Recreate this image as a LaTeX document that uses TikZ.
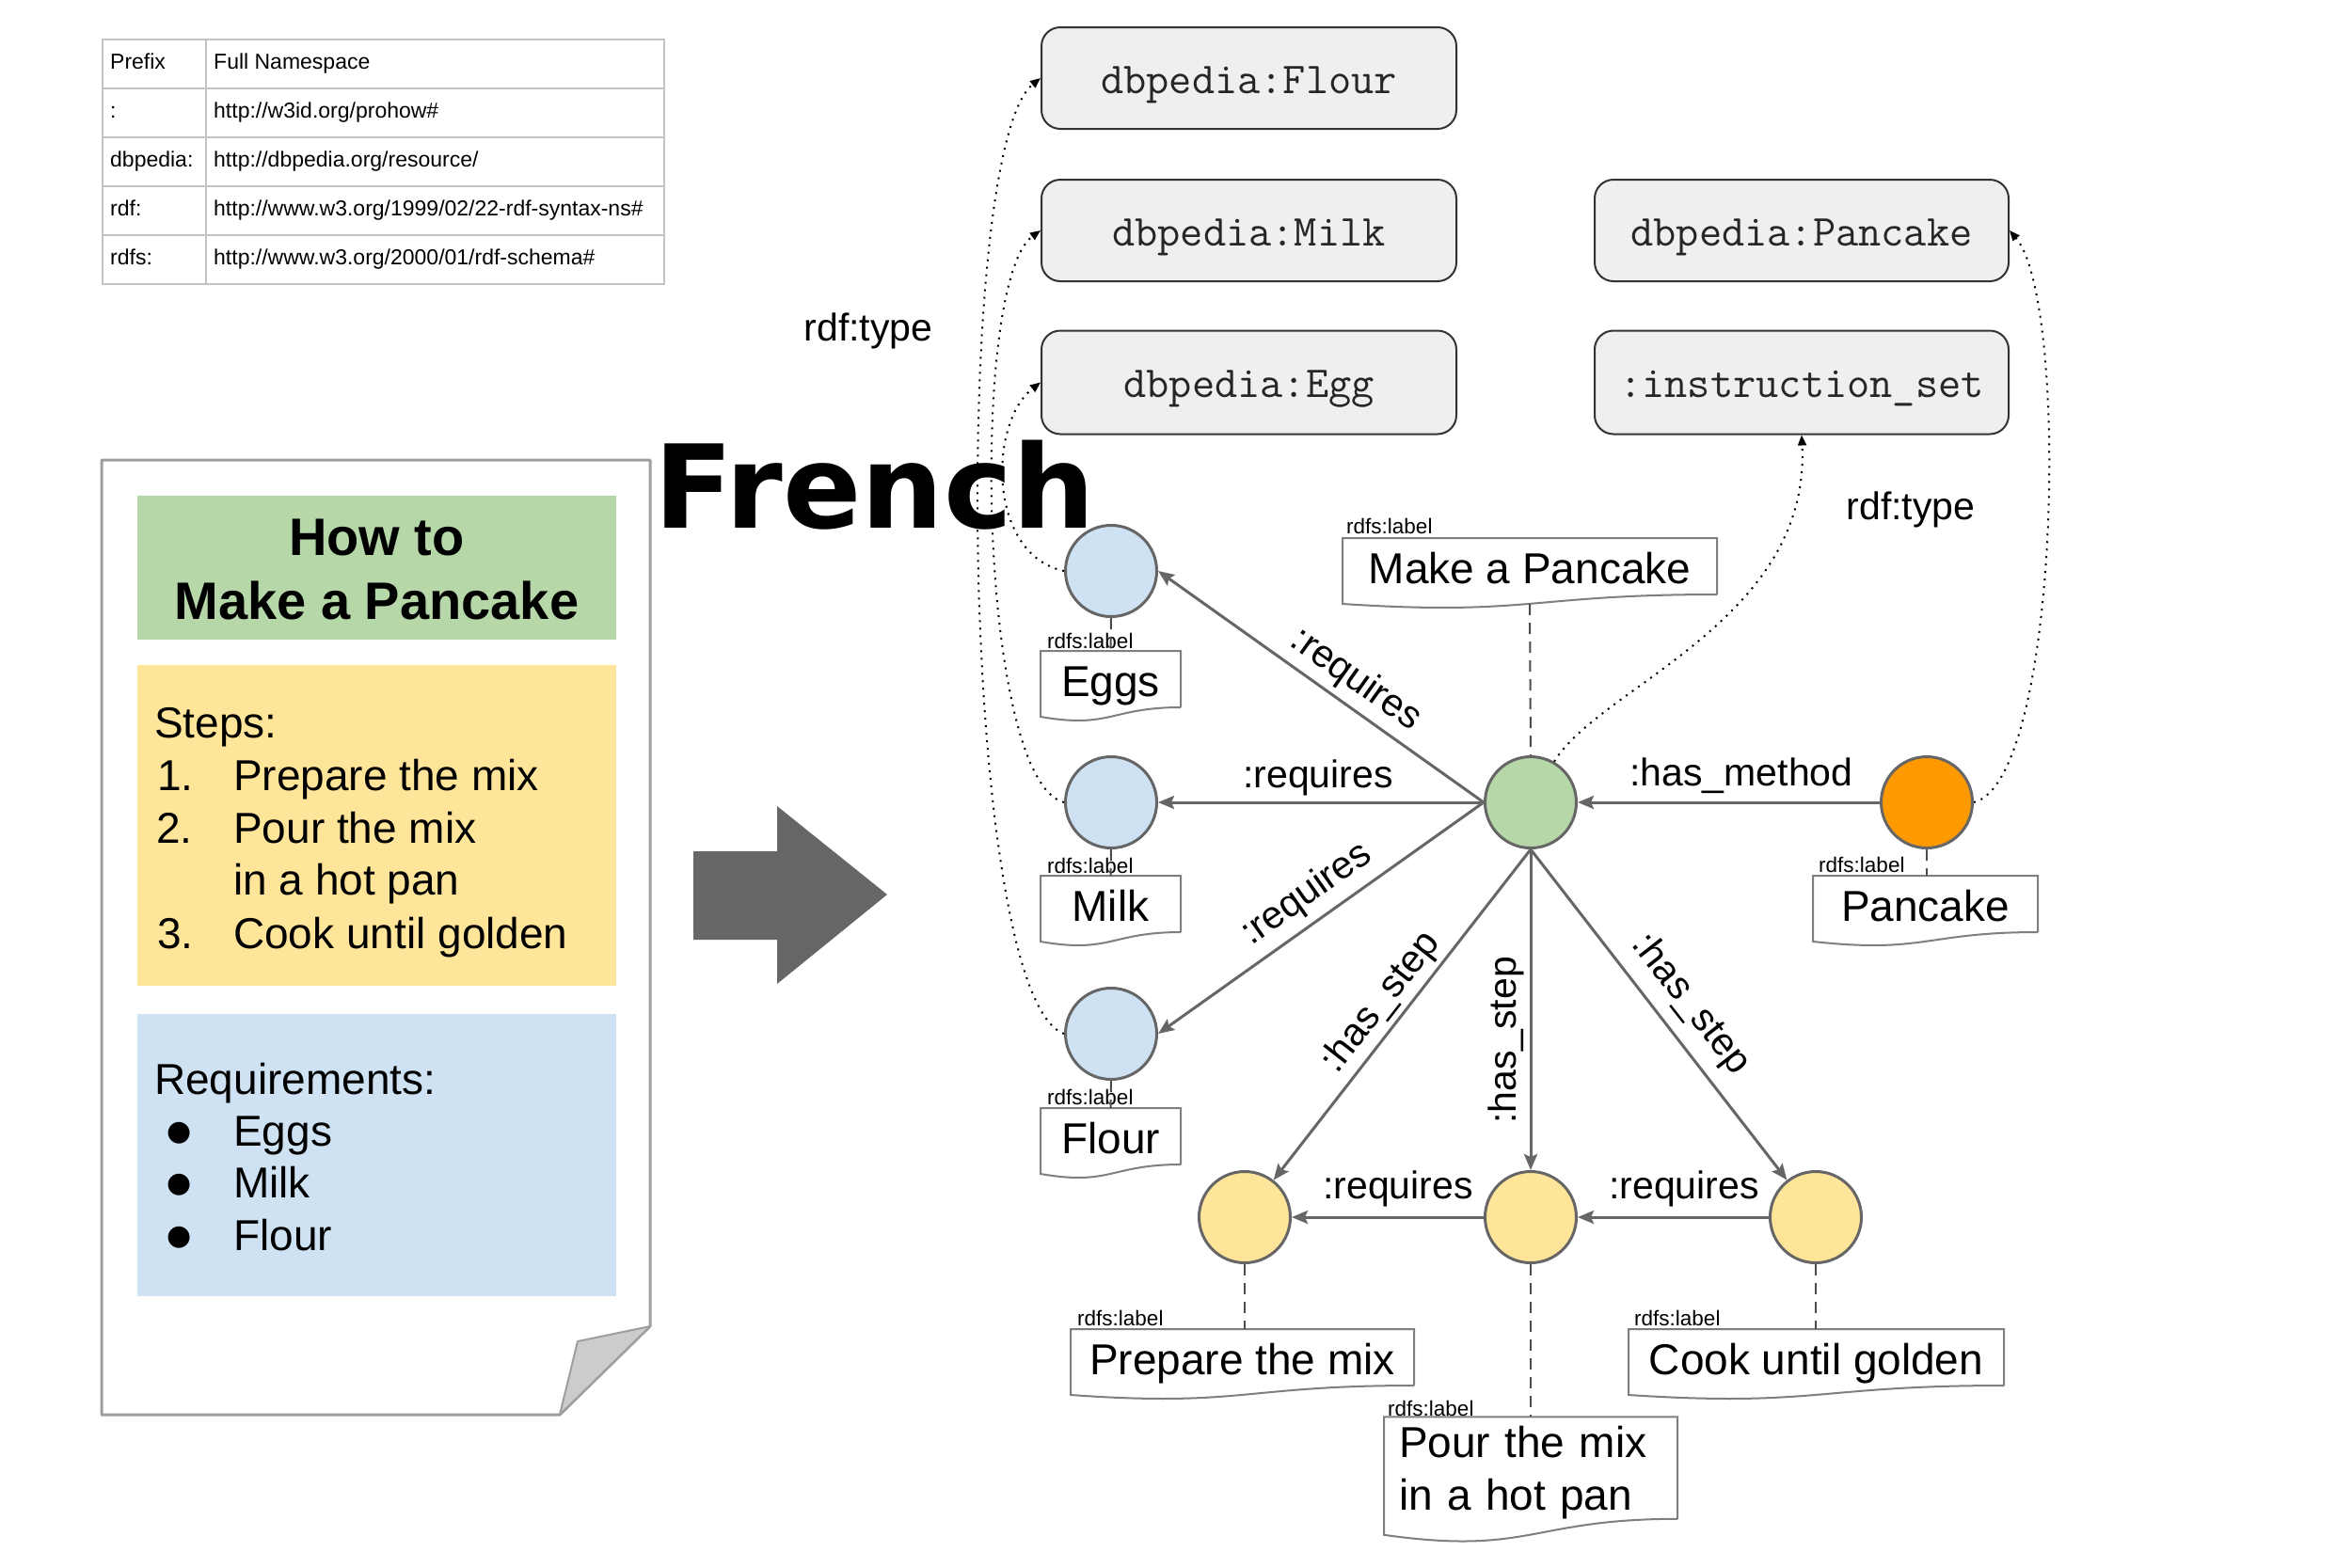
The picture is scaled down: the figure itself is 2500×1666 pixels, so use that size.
\documentclass[tikz,border=0pt]{standalone}
\usepackage{fontspec}
\setmainfont{Liberation Sans}
\newfontfamily\djv{DejaVu Sans}
\usetikzlibrary{arrows.meta,calc}
\definecolor{edgegray}{HTML}{666666}
\definecolor{boxfill}{HTML}{EFEFEF}
\definecolor{boxline}{HTML}{333333}
\definecolor{cblue}{HTML}{CFE2F3}
\definecolor{cgreen}{HTML}{B6D7A8}
\definecolor{corange}{HTML}{FF9900}
\definecolor{cyellow}{HTML}{FFE599}
\definecolor{tabline}{HTML}{C4C4C4}
\definecolor{pageline}{HTML}{9E9E9E}
\definecolor{foldfill}{HTML}{CCCCCC}
\definecolor{docline}{HTML}{7F7F7F}
\definecolor{arrowfill}{HTML}{666666}
\newcommand{\fsz}[2]{\fontsize{#1}{#2}\selectfont}
\newcommand{\wave}[3]{%
  \draw[docedge] (#1.south east) -- (#1.north east) -- (#1.north west) --
    ($(#1.south west)+(0,#3)$) .. controls ($(#1.south)+(0,#2)$) and (#1.south) .. (#1.south east);}
\tikzset{
  res/.style={circle, draw=edgegray, line width=3pt, minimum size=97pt, inner sep=0pt},
  tbox/.style={rectangle, rounded corners=20pt, fill=boxfill, draw=boxline, line width=2pt,
    minimum width=441pt, minimum height=108pt, font=\ttfamily\fsz{47}{56}, text=black!85,
    text height=42pt, text depth=10pt},
  lboxbase/.style={rectangle, minimum height=60pt, inner sep=0pt, outer sep=0pt, font=\fsz{46}{56}},
  lbox/.style={lboxbase, text height=46pt, text depth=10pt},
  docedge/.style={draw=docline, line width=2pt},
  small/.style={font=\fsz{22.5}{27}, inner sep=0pt, anchor=base west},
  elabel/.style={font=\fsz{41}{49}, inner sep=0pt},
  rel/.style={draw=edgegray, line width=3pt, -{Stealth[length=17pt,width=14pt,inset=3pt]}},
  typ/.style={draw=black, line width=2pt, dash pattern=on 2pt off 6pt, -{Triangle[length=11pt,width=9pt]}},
  lnk/.style={draw=black!70, line width=2pt, dash pattern=on 12pt off 8pt},
  tabtext/.style={font=\fsz{23}{27}, inner sep=0pt, anchor=base west},
  doctext/.style={font=\fsz{46}{56}, inner sep=0pt, anchor=base west},
  titletext/.style={font=\bfseries\fsz{56}{66}, inner sep=0pt, anchor=base},
  bullet/.style={font=\djv\fsz{30}{36}, inner sep=0pt},
}
\begin{document}
\begin{tikzpicture}[x=1pt,y=-1pt]
\useasboundingbox (0,0) rectangle (2500,1666);
\fill[white] (0,0) rectangle (2500,1666);

% ---------- namespace table ----------
\draw[tabline, line width=2pt] (109,42) rectangle (706,302);
\foreach \yy in {94,146,198,250} \draw[tabline, line width=2pt] (109,\yy) -- (706,\yy);
\draw[tabline, line width=2pt] (219,42) -- (219,302);
\node[tabtext] (tp1) at (117,73) {Prefix};
\node[tabtext] (tn1) at (227,73) {Full Namespace};
\node[tabtext] (tp2) at (117,125) {:};
\node[tabtext] (tn2) at (227,125) {http://w3id.org/prohow\#};
\node[tabtext] (tp3) at (117,177) {dbpedia:};
\node[tabtext] (tn3) at (227,177) {http://dbpedia.org/resource/};
\node[tabtext] (tp4) at (117,229) {rdf:};
\node[tabtext] (tn4) at (227,229) {http://www.w3.org/1999/02/22-rdf-syntax-ns\#};
\node[tabtext] (tp5) at (117,281) {rdfs:};
\node[tabtext] (tn5) at (227,281) {http://www.w3.org/2000/01/rdf-schema\#};

% ---------- document page ----------
\draw[pageline, line width=3pt, fill=white, line join=round]
  (108,489) -- (691,489) -- (691,1410) -- (595,1504) -- (108,1504) -- cycle;
\draw[pageline, line width=2pt, fill=foldfill, line join=round]
  (691,1410) -- (614,1426) -- (595,1504) -- cycle;
\fill[cgreen] (146,527) rectangle (655,680);
\fill[cyellow] (146,707) rectangle (655,1048);
\fill[cblue] (146,1078) rectangle (655,1378);
\node[titletext] (ti1) at (400.5,590) {How to};
\node[titletext] (ti2) at (400.5,658) {Make a Pancake};
\node[doctext] (st) at (164,784) {Steps:};
\node[doctext] (n1) at (167,840) {1.};
\node[doctext] (s1) at (248,840) {Prepare the mix};
\node[doctext] (n2) at (166,896) {2.};
\node[doctext] (s2) at (248,896) {Pour the mix};
\node[doctext] (s2b) at (248,951) {in a hot pan};
\node[doctext] (n3) at (167,1008) {3.};
\node[doctext] (s3) at (248,1008) {Cook until golden};
\node[doctext] (rq) at (164,1163) {Requirements:};
\node[bullet] (b1) at (191,1205) {●};
\node[doctext] (r1) at (248,1218) {Eggs};
\node[bullet] (b2) at (191,1260) {●};
\node[doctext] (r2) at (248,1273) {Milk};
\node[bullet] (b3) at (191,1316) {●};
\node[doctext] (r3) at (248,1329) {Flour};

% ---------- big arrow ----------
\fill[arrowfill] (737,905) -- (826,905) -- (826,857) -- (943,951) -- (826,1046) -- (826,999) -- (737,999) -- cycle;

% ---------- type boxes ----------
\node[tbox] (flourT) at (1327.5,83) {dbpedia:Flour};
\node[tbox] (milkT) at (1327.5,245) {dbpedia:Milk};
\node[tbox, minimum height=110pt] (eggT) at (1327.5,406.5) {dbpedia:Egg};
\node[tbox, minimum width=440pt] (pancT) at (1915,245) {dbpedia:Pancake};
\node[tbox, minimum width=440pt, minimum height=110pt] (instT) at (1915,406.5) {:instruction\_set};

% ---------- resources ----------
\node[res, fill=cblue] (eggC) at (1181,607) {};
\node[res, fill=cblue] (milkC) at (1181,853) {};
\node[res, fill=cblue] (flourC) at (1181,1099) {};
\node[res, fill=cgreen] (green) at (1627,853) {};
\node[res, fill=corange] (orange) at (2048,853) {};
\node[res, fill=cyellow] (y1) at (1323,1294) {};
\node[res, fill=cyellow] (y2) at (1627,1294) {};
\node[res, fill=cyellow] (y3) at (1930,1294) {};

% ---------- label boxes ----------
\node[lbox, minimum width=398pt] (mkl) at (1626,602) {Make a Pancake};
\node[lbox, minimum width=149pt] (eggl) at (1180.5,722) {Eggs};
\node[lbox, minimum width=149pt] (milkl) at (1180.5,961) {Milk};
\node[lbox, minimum width=149pt] (flourl) at (1180.5,1208) {Flour};
\node[lbox, minimum width=239pt] (pancl) at (2046.5,961) {Pancake};
\node[lbox, minimum width=365pt] (prepl) at (1320.5,1443) {Prepare the mix};
\node[lbox, minimum width=399pt] (cookl) at (1930.5,1443) {Cook until golden};
\node[lboxbase, minimum width=312pt, minimum height=103pt, text width=280pt, align=left] (pourl) at (1627,1560.5) {\rule{0pt}{43pt}Pour the mix\\in a hot pan};
\wave{mkl}{23}{10}
\wave{eggl}{23}{10}
\wave{milkl}{23}{10}
\wave{flourl}{23}{10}
\wave{pancl}{23}{10}
\wave{prepl}{23}{10}
\wave{cookl}{23}{10}
\wave{pourl}{39}{17}
\node[small] (mkr) at (1431,567) {rdfs:label};
\node[small] (eggr) at (1113,689) {rdfs:label};
\node[small] (milkr) at (1113,928) {rdfs:label};
\node[small] (flourr) at (1113,1174) {rdfs:label};
\node[small] (pancr) at (1933,927) {rdfs:label};
\node[small] (prepr) at (1145,1409) {rdfs:label};
\node[small] (cookr) at (1737,1409) {rdfs:label};
\node[small] (pourr) at (1475,1505) {rdfs:label};

% ---------- label links ----------
\draw[lnk] (eggC.south) -- (eggl.north);
\draw[lnk] (milkC.south) -- (milkl.north);
\draw[lnk] (flourC.south) -- (flourl.north);
\draw[lnk] (orange.south) -- (orange.south |- pancl.north);
\draw[lnk] ($(mkl.south)+(0,10)$) -- (green.north);
\draw[lnk] (y1.south) -- (y1.south |- prepl.north);
\draw[lnk] (y2.south) -- (pourl.north);
\draw[lnk] (y3.south) -- (y3.south |- cookl.north);

% ---------- relations ----------
\draw[rel] (green.west) -- (eggC.east);
\draw[rel] (green.west) -- (milkC.east);
\draw[rel] (green.west) -- (flourC.east);
\draw[rel] (orange.west) -- (green.east);
\draw[rel] (green.south) -- (y1);
\draw[rel] (green.south) -- (y2.north);
\draw[rel] (green.south) -- (y3);
\draw[rel] (y2.west) -- (y1.east);
\draw[rel] (y3.west) -- (y2.east);

% ---------- rdf:type ----------
\draw[typ] (flourC.west) .. controls (1020,1060) and (1010,160) .. (flourT.west);
\draw[typ] (milkC.west) .. controls (1040,830) and (1030,300) .. (milkT.west);
\draw[typ] (eggC.west) .. controls (1050,590) and (1050,450) .. (eggT.west);
\draw[typ] (orange.east) .. controls (2190,830) and (2200,320) .. (pancT.east);
\draw[typ] (green.60) .. controls (1700,730) and (1925,660) .. (instT.south);

% ---------- edge labels ----------
\node[elabel, rotate=-35.3] (lr1) at (1441,723) {:requires};
\node[elabel] (lr2) at (1401,827) {:requires};
\node[elabel, rotate=35.3] (lr3) at (1389,951) {:requires};
\node[elabel, rotate=52] (ls1) at (1468,1066) {:has\_step};
\node[elabel, rotate=90] (ls2) at (1601,1106) {:has\_step};
\node[elabel, rotate=-52] (ls3) at (1797,1068) {:has\_step};
\node[elabel] (lm) at (1851,825) {:has\_method};
\node[elabel] (lr4) at (1486,1264) {:requires};
\node[elabel] (lr5) at (1790,1264) {:requires};
\node[elabel] (lt1) at (923,352) {rdf:type};
\node[elabel] (lt2) at (2031,542) {rdf:type};

% ---------- overlay ----------
\node[font=\djv\bfseries\fsz{123}{140}, inner sep=0pt, anchor=base west] (french) at (695,561) {French};
\end{tikzpicture}
\end{document}
